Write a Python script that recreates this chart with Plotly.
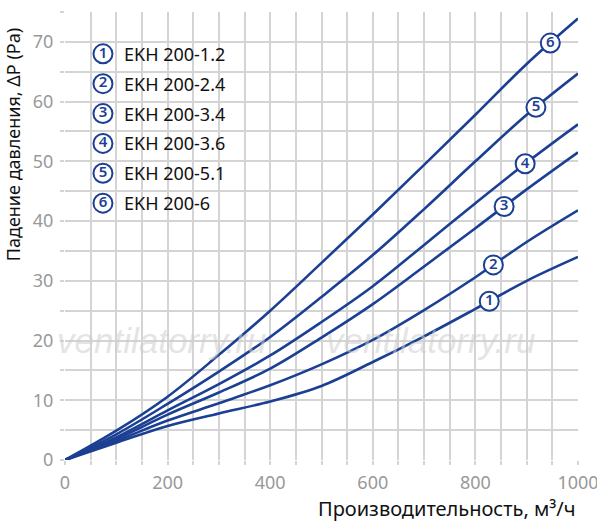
import numpy as np
import plotly.graph_objects as go

# airflow, m3/h
flow = [0, 100, 200, 300, 400, 500, 600, 700, 800, 900, 1000]

# pressure drop, Pa
ekh_1_2 = [0, 2.9, 5.7, 7.8, 9.8, 12.4, 16.4, 20.7, 25.3, 30.0, 34.0]
ekh_2_4 = [0, 3.2, 6.6, 9.5, 12.5, 16.0, 20.1, 25.1, 30.6, 36.5, 41.8]
ekh_3_4 = [0, 3.5, 7.6, 11.3, 15.3, 20.5, 26.1, 32.4, 38.8, 45.3, 51.5]
ekh_3_6 = [0, 3.8, 8.3, 12.7, 17.5, 23.1, 29.1, 36.0, 43.0, 49.8, 56.2]
ekh_5_1 = [0, 4.3, 9.4, 14.8, 20.6, 27.3, 34.3, 42.0, 50.0, 57.8, 64.7]
ekh_6 = [0, 4.9, 10.6, 17.6, 25.0, 33.0, 41.1, 49.4, 57.8, 66.3, 73.9]

names = ["EKH 200-1.2", "EKH 200-2.4", "EKH 200-3.4",
         "EKH 200-3.6", "EKH 200-5.1", "EKH 200-6"]
curves = [ekh_1_2, ekh_2_4, ekh_3_4, ekh_3_6, ekh_5_1, ekh_6]
# where the numbered circle sits on each curve (airflow)
label_flow = [827, 835, 856, 897, 918, 946]

blue = "#1b3f93"
grid = "#d4d4d4"
font = "Noto Sans"

fig = go.Figure()

for name, ys in zip(names, curves):
    fig.add_trace(go.Scatter(x=flow, y=ys, mode="lines", name=name,
                             line=dict(color=blue, width=2.6, shape="spline", smoothing=1.0),
                             showlegend=False, hoverinfo="skip"))

circle_marker = dict(size=19, color="white", line=dict(color=blue, width=2))
digit_font = dict(family=font, size=15, color=blue, weight=600)

# numbered circles on the curves
lab_y = [float(np.interp(fx, flow, ys)) for fx, ys in zip(label_flow, curves)]
fig.add_trace(go.Scatter(x=label_flow, y=lab_y, mode="markers+text",
                         text=[str(i + 1) for i in range(6)],
                         textposition="middle center", textfont=digit_font,
                         marker=circle_marker, showlegend=False, hoverinfo="skip"))

# legend block, top left
leg_x = [74] * 6
leg_y = [68 - 5 * i for i in range(6)]
fig.add_trace(go.Scatter(x=leg_x, y=leg_y, mode="markers+text",
                         text=[str(i + 1) for i in range(6)],
                         textposition="middle center", textfont=digit_font,
                         marker=circle_marker, showlegend=False, hoverinfo="skip"))
for i, name in enumerate(names):
    fig.add_annotation(x=112, y=leg_y[i], text=name, showarrow=False, xanchor="left",
                       font=dict(family=font, size=18, color="#111111"))

# watermark
for wx in [189, 713]:
    fig.add_annotation(x=wx, y=20, text="<i>ventilatorry.ru</i>", showarrow=False,
                       font=dict(family="Liberation Sans", size=35, color="rgba(205,205,205,0.55)"))

# axis titles
fig.add_annotation(xref="paper", yref="paper", x=1.0, y=-0.108, xanchor="right", yanchor="middle",
                   text="Производительность, м³/ч", showarrow=False,
                   font=dict(family=font, size=20, color="#111111"))
fig.add_annotation(xref="paper", yref="paper", x=-0.101, y=0.703, xanchor="center", yanchor="middle",
                   textangle=-90, text="Падение давления, ΔP (Pa)", showarrow=False,
                   font=dict(family=font, size=18, color="#111111"))

fig.update_xaxes(range=[0, 1000], dtick=200, showgrid=True, gridcolor=grid, gridwidth=1.5,
                 minor=dict(dtick=50, showgrid=True, gridcolor=grid, gridwidth=1.5,
                            ticks="outside", ticklen=4, tickcolor=grid),
                 ticks="outside", ticklen=4, tickcolor=grid, tickwidth=1.5,
                 zeroline=False, showline=False, ticklabelstandoff=2,
                 ticklabeloverflow="allow", automargin=False,
                 tickfont=dict(family=font, size=18, color="#999999"))
fig.update_yaxes(range=[0, 75], tickvals=[0, 10, 20, 30, 40, 50, 60, 70],
                 showgrid=True, gridcolor=grid, gridwidth=1.5,
                 minor=dict(dtick=5, showgrid=True, gridcolor=grid, gridwidth=1.5,
                            ticks="outside", ticklen=4, tickcolor=grid),
                 ticks="outside", ticklen=4, tickcolor=grid, tickwidth=1.5,
                 zeroline=False, showline=False, ticklabelstandoff=3, automargin=False,
                 tickfont=dict(family=font, size=18, color="#999999"))

fig.update_layout(width=597, height=523, plot_bgcolor="white", paper_bgcolor="white",
                  margin=dict(l=65, r=19, t=12, b=63))

fig.write_html("out.html", config={"displayModeBar": False},
               post_script="document.body.style.margin='0';")
